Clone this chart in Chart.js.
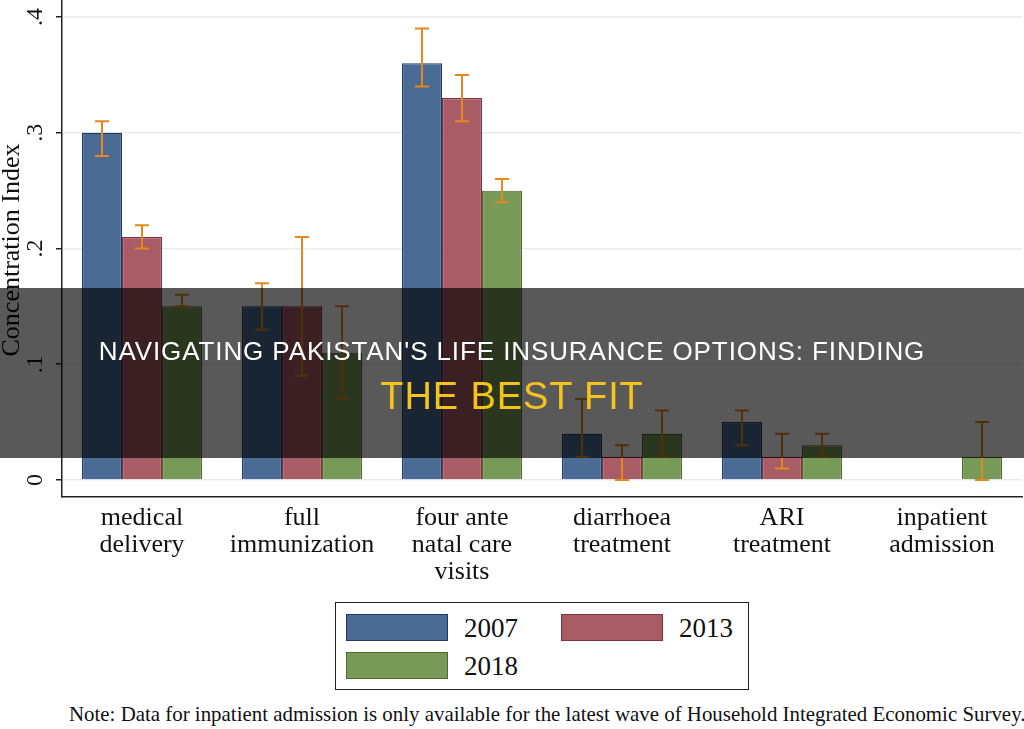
<!DOCTYPE html>
<html>
<head>
<meta charset="utf-8">
<script src="https://cdn.jsdelivr.net/npm/chart.js@4.4.0/dist/chart.umd.min.js"></script>
<style>
  html, body { margin: 0; padding: 0; background: #fff; }
  body { width: 1024px; height: 729px; position: relative; overflow: hidden; }
  #wrap { position: absolute; left: 0; top: 0; width: 1024px; height: 600px; }
  #legend { position: absolute; left: 335px; top: 602px; width: 412px; height: 86px;
    border: 1.5px solid #222; font-family: 'Liberation Serif', serif; font-size: 27px; color: #111; }
  .sw { position: absolute; width: 100px; height: 25px; border: 1.5px solid; }
  .lt { position: absolute; line-height: 30px; }
  #note { position: absolute; left: 69px; top: 702px; font-family: 'Liberation Serif', serif;
    font-size: 20.9px; line-height: 24px; color: #111; white-space: nowrap; }
  #banner { position: absolute; left: 0; top: 288px; width: 1024px; height: 170px;
    background: rgba(0,0,0,0.65); font-family: 'Liberation Sans', Arial, sans-serif; text-align: center; }
  #banner div { position: absolute; left: 0; width: 1024px; letter-spacing: 0.9px; }
</style>
</head>
<body>
<div id="wrap"><canvas id="chart" width="1024" height="600"></canvas></div>
<div id="legend"></div>
<div id="note">Note: Data for inpatient admission is only available for the latest wave of Household Integrated Economic Survey.</div>
<div id="banner">
  <div style="top:48px;color:#fff;font-size:26px;line-height:30px;">NAVIGATING PAKISTAN'S LIFE INSURANCE OPTIONS: FINDING</div>
  <div style="top:86px;color:#f6c21c;font-size:38px;line-height:44px;">THE BEST FIT</div>
</div>
<script>
const categories = [['medical', 'delivery'], ['full', 'immunization'], ['four ante', 'natal care', 'visits'],
    ['diarrhoea', 'treatment'], ['ARI', 'treatment'], ['inpatient', 'admission']];
const years = ['2007', '2013', '2018'];

const ci2007 = [0.30, 0.15, 0.36, 0.04, 0.05, null];
const ci2013 = [0.21, 0.15, 0.33, 0.02, 0.02, null];
const ci2018 = [0.15, 0.11, 0.25, 0.04, 0.03, 0.02];

const lo2007 = [0.28, 0.13, 0.34, 0.02, 0.03, null];
const hi2007 = [0.31, 0.17, 0.39, 0.07, 0.06, null];
const lo2013 = [0.20, 0.09, 0.31, 0.00, 0.01, null];
const hi2013 = [0.22, 0.21, 0.35, 0.03, 0.04, null];
const lo2018 = [0.15, 0.07, 0.24, 0.02, 0.02, 0.00];
const hi2018 = [0.16, 0.15, 0.26, 0.06, 0.04, 0.05];

const yTicks = [0, 0.1, 0.2, 0.3, 0.4];
const yTickLabels = ['0', '.1', '.2', '.3', '.4'];

const fills = ['#4a6b94', '#a85c66', '#789a58'];
const edges = ['#1f3b60', '#86303e', '#4b6a33'];
const errColor = '#e5891c';
const serif = "'Liberation Serif', 'Times New Roman', serif";

const seriesVals = [ci2007, ci2013, ci2018];
const seriesLo = [lo2007, lo2013, lo2018];
const seriesHi = [hi2007, hi2013, hi2018];

// legend box
const legend = document.getElementById('legend');
const legPos = [[10, 11], [225, 11], [10, 49]];
years.forEach((y, i) => {
    const sw = document.createElement('div');
    sw.className = 'sw';
    sw.style.left = legPos[i][0] + 'px';
    sw.style.top = legPos[i][1] + 'px';
    sw.style.background = fills[i];
    sw.style.borderColor = edges[i];
    legend.appendChild(sw);
    const t = document.createElement('div');
    t.className = 'lt';
    t.textContent = y;
    t.style.left = (legPos[i][0] + 118) + 'px';
    t.style.top = (legPos[i][1] - 1) + 'px';
    legend.appendChild(t);
});

const errorBars = {
    id: 'errorBars',
    afterDatasetsDraw(chart) {
        const ctx = chart.ctx;
        const y = chart.scales.y;
        ctx.save();
        ctx.strokeStyle = errColor;
        ctx.lineWidth = 2;
        chart.data.datasets.forEach((ds, di) => {
            const meta = chart.getDatasetMeta(di);
            meta.data.forEach((bar, i) => {
                const lo = seriesLo[di][i], hi = seriesHi[di][i];
                if (lo == null || hi == null) return;
                const y1 = y.getPixelForValue(lo), y2 = y.getPixelForValue(hi);
                ctx.beginPath();
                ctx.moveTo(bar.x, y1); ctx.lineTo(bar.x, y2);
                ctx.moveTo(bar.x - 7, y1); ctx.lineTo(bar.x + 7, y1);
                ctx.moveTo(bar.x - 7, y2); ctx.lineTo(bar.x + 7, y2);
                ctx.stroke();
            });
        });
        ctx.restore();
    }
};

const yLabels = {
    id: 'yLabels',
    afterDraw(chart) {
        const ctx = chart.ctx;
        const y = chart.scales.y;
        ctx.save();
        ctx.fillStyle = '#111';
        ctx.font = '24px ' + serif;
        ctx.textAlign = 'center';
        ctx.textBaseline = 'alphabetic';
        yTicks.forEach((v, i) => {
            ctx.save();
            ctx.translate(42, y.getPixelForValue(v));
            ctx.rotate(-Math.PI / 2);
            ctx.fillText(yTickLabels[i], 0, 0);
            ctx.restore();
        });
        ctx.font = '26px ' + serif;
        ctx.save();
        ctx.translate(19, 250);
        ctx.rotate(-Math.PI / 2);
        ctx.fillText('Concentration Index', 0, 0);
        ctx.restore();
        ctx.restore();
    }
};

new Chart(document.getElementById('chart').getContext('2d'), {
    type: 'bar',
    data: {
        labels: categories,
        datasets: years.map((yr, i) => ({
            label: yr,
            data: seriesVals[i],
            backgroundColor: fills[i],
            borderColor: edges[i],
            borderWidth: 1.2,
            categoryPercentage: 0.75,
            barPercentage: 1.0
        }))
    },
    options: {
        responsive: false,
        animation: false,
        devicePixelRatio: 1,
        layout: { padding: { top: 0, right: 2, left: 0, bottom: 0 } },
        plugins: { legend: { display: false }, tooltip: { enabled: false } },
        scales: {
            x: {
                grid: { display: false, drawTicks: false },
                border: { display: true, color: '#222', width: 1.5 },
                ticks: { color: '#111', font: { family: serif, size: 26, lineHeight: 1.04 }, padding: 8, maxRotation: 0, autoSkip: false },
                afterFit(scale) { scale.height = 103; }
            },
            y: {
                min: -0.0147,
                max: 0.4147,
                afterBuildTicks(scale) { scale.ticks = yTicks.map(v => ({ value: v })); },
                grid: { color: '#e8ecef', lineWidth: 1.5, drawTicks: true, tickLength: 6, tickColor: '#222' },
                border: { display: true, color: '#222', width: 1.5 },
                ticks: { display: false },
                afterFit(scale) { scale.width = 62; }
            }
        }
    },
    plugins: [errorBars, yLabels]
});
</script>
</body>
</html>
